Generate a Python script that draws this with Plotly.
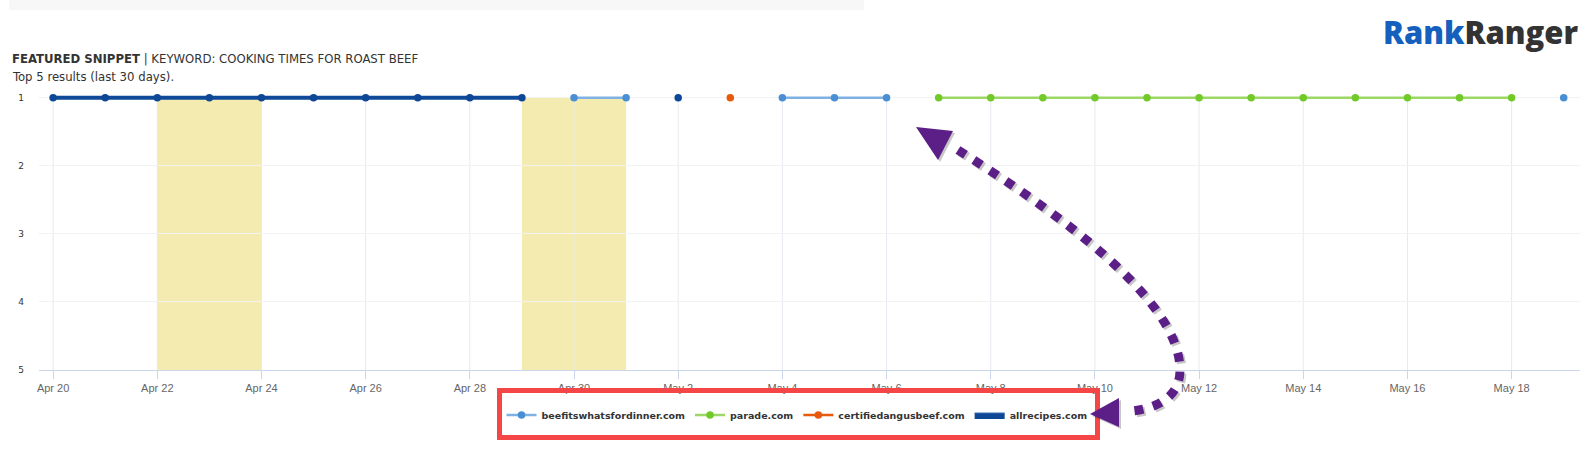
import plotly.graph_objects as go
import pandas as pd

# ---------------- data ----------------
dates = pd.date_range("2019-04-20", "2019-05-19", freq="D")
N = None
allrecipes = [1, 1, 1, 1, 1, 1, 1, 1, 1, 1, N, N, 1, N, N, N, N, N, N, N, N, N, N, N, N, N, N, N, N, N]
beefits =    [N, N, N, N, N, N, N, N, N, N, 1, 1, N, N, 1, 1, 1, N, N, N, N, N, N, N, N, N, N, N, N, 1]
certified =  [N, N, N, N, N, N, N, N, N, N, N, N, N, 1, N, N, N, N, N, N, N, N, N, N, N, N, N, N, N, N]
parade =     [N, N, N, N, N, N, N, N, N, N, N, N, N, N, N, N, N, 1, 1, 1, 1, 1, 1, 1, 1, 1, 1, 1, 1, N]
band_starts = ["2019-04-22", "2019-04-29"]
band_ends = ["2019-04-24", "2019-05-01"]
y_ticks = [1, 2, 3, 4, 5]

# ---------------- layout geometry ----------------
W, H = 1594, 454
ML, MR, MT, MB = 39, 14, 91, 84
PW, PH = W - ML - MR, H - MT - MB
Y_TOP = 0.9  # small headroom so the y=1 lines are not clipped


def px(x):
    return (x - ML) / PW


def py(y):
    return (H - MB - y) / PH


fig = go.Figure()

series = [
    ("beefitswhatsfordinner.com", beefits, "#4a8fd4", "#7fb2e3", 2.5, True),
    ("parade.com", parade, "#72c92a", "#9bd865", 2.5, True),
    ("certifiedangusbeef.com", certified, "#e8590c", "#e8590c", 2.5, True),
    ("allrecipes.com", allrecipes, "#0d4795", "#0f4a9a", 4, False),
]
for name, vals, mc, lc, lw, leg in series:
    fig.add_trace(go.Scatter(
        x=dates, y=vals, name=name, mode="lines+markers",
        line=dict(color=lc, width=lw), marker=dict(color=mc, size=7.5),
        connectgaps=False, cliponaxis=False, showlegend=leg,
    ))
# legend-only entry for allrecipes (rectangle symbol)
fig.add_trace(go.Scatter(
    x=[None], y=[None], name="allrecipes.com", mode="lines", fill="toself",
    fillcolor="#0d4795", line=dict(color="#3b6fb8", width=1), showlegend=True,
))

shapes = []
for s, e in zip(band_starts, band_ends):
    shapes.append(dict(type="rect", xref="x", yref="y", x0=s, x1=e, y0=5, y1=1,
                       fillcolor="#f4ebb1", line=dict(width=0), layer="below"))
# vertical grid lines (every second day), from y=5 to y=1
for d in dates[::2]:
    shapes.append(dict(type="line", xref="x", yref="y", x0=d, x1=d, y0=5, y1=1,
                       line=dict(color="#e6e9f0", width=1), layer="below"))

# top grey bar
shapes.append(dict(type="rect", xref="paper", yref="paper", x0=px(9), x1=px(864),
                   y0=py(10), y1=py(-2), fillcolor="#f7f7f7", line=dict(width=0)))

# red box around legend
shapes.append(dict(type="rect", xref="paper", yref="paper", x0=px(499.5), x1=px(1097.5),
                   y0=py(437.5), y1=py(390.5), line=dict(color="#f44646", width=5)))


def curve_path(dx=0, dy=0):
    p = [(958, 150), (1060, 214), (1180, 300), (1180, 370), (1180, 395), (1160, 408), (1132, 411)]
    q = [(px(a + dx), py(b + dy)) for a, b in p]
    return ("M{},{} C{},{} {},{} {},{} C{},{} {},{} {},{}".format(
        *[v for pt in q for v in pt]))


def tri_path(pts, dx=0, dy=0):
    q = [(px(a + dx), py(b + dy)) for a, b in pts]
    return "M{},{} L{},{} L{},{} Z".format(*[v for pt in q for v in pt])


top_tri = [(916, 127), (953, 131), (938, 160)]
bot_tri = [(1090, 414), (1119, 398), (1119, 427)]
purple = "#5c1f88"
# shadows
shapes.append(dict(type="path", xref="paper", yref="paper", path=curve_path(2, 2),
                   line=dict(color="rgba(0,0,0,0.22)", width=9, dash="9px,10px")))
for t in (top_tri, bot_tri):
    shapes.append(dict(type="path", xref="paper", yref="paper", path=tri_path(t, 2, 2),
                       fillcolor="rgba(0,0,0,0.22)", line=dict(width=0)))
shapes.append(dict(type="path", xref="paper", yref="paper", path=curve_path(),
                   line=dict(color=purple, width=9, dash="9px,10px")))
for t in (top_tri, bot_tri):
    shapes.append(dict(type="path", xref="paper", yref="paper", path=tri_path(t),
                       fillcolor=purple, line=dict(width=0)))

annotations = [
    dict(xref="paper", yref="paper", x=px(10), y=py(58), xanchor="left", yanchor="middle",
         showarrow=False,
         text="<b>FEATURED SNIPPET</b> | KEYWORD: COOKING TIMES FOR ROAST BEEF",
         font=dict(family="Liberation Sans Narrow, DejaVu Sans Condensed, Roboto", size=13, color="#333333")),
    dict(xref="paper", yref="paper", x=px(10), y=py(77), xanchor="left", yanchor="middle",
         showarrow=False, text="Top 5 results (last 30 days).",
         font=dict(family="Liberation Sans Narrow, DejaVu Sans Condensed, Roboto", size=13, color="#333333")),
    dict(xref="paper", yref="paper", x=px(1481), y=py(32), xanchor="center", yanchor="middle",
         showarrow=False,
         text="<span style='color:#1560bd'>Rank</span><span style='color:#333333'>Ranger</span>",
         font=dict(family="Open Sans", size=31, weight=800)),
]

fig.update_layout(
    width=W, height=H,
    margin=dict(l=ML, r=MR, t=MT, b=MB),
    paper_bgcolor="white", plot_bgcolor="white",
    shapes=shapes, annotations=annotations,
    showlegend=True,
    legend=dict(orientation="h", xanchor="center", x=px(797), yanchor="middle", y=py(415),
                font=dict(family="DejaVu Sans", size=9.5, color="#333333", weight="bold"),
                bgcolor="rgba(0,0,0,0)", itemclick=False),
    xaxis=dict(
        type="date", range=["2019-04-19 17:30", "2019-05-19 07:30"],
        tick0="2019-04-20", dtick=2 * 86400000, tickformat="%b %-d",
        showgrid=False,
        showline=True, linecolor="#ccd6eb", linewidth=1,
        ticks="outside", ticklen=8, tickcolor="#ccd6eb",
        tickfont=dict(family="Liberation Sans, Arial", size=11, color="#666666"),
        zeroline=False, fixedrange=True,
    ),
    yaxis=dict(
        range=[5, Y_TOP], tickvals=y_ticks, ticktext=[str(v) for v in y_ticks],
        showgrid=True, gridcolor="#f2f2f2", gridwidth=1, zeroline=False, showline=False,
        tickfont=dict(family="DejaVu Sans", size=9, color="#333333"),
        ticklabelstandoff=14, fixedrange=True,
    ),
)

fig.write_html("out.html", config={"displayModeBar": False},
               post_script="document.body.style.margin='0';")
